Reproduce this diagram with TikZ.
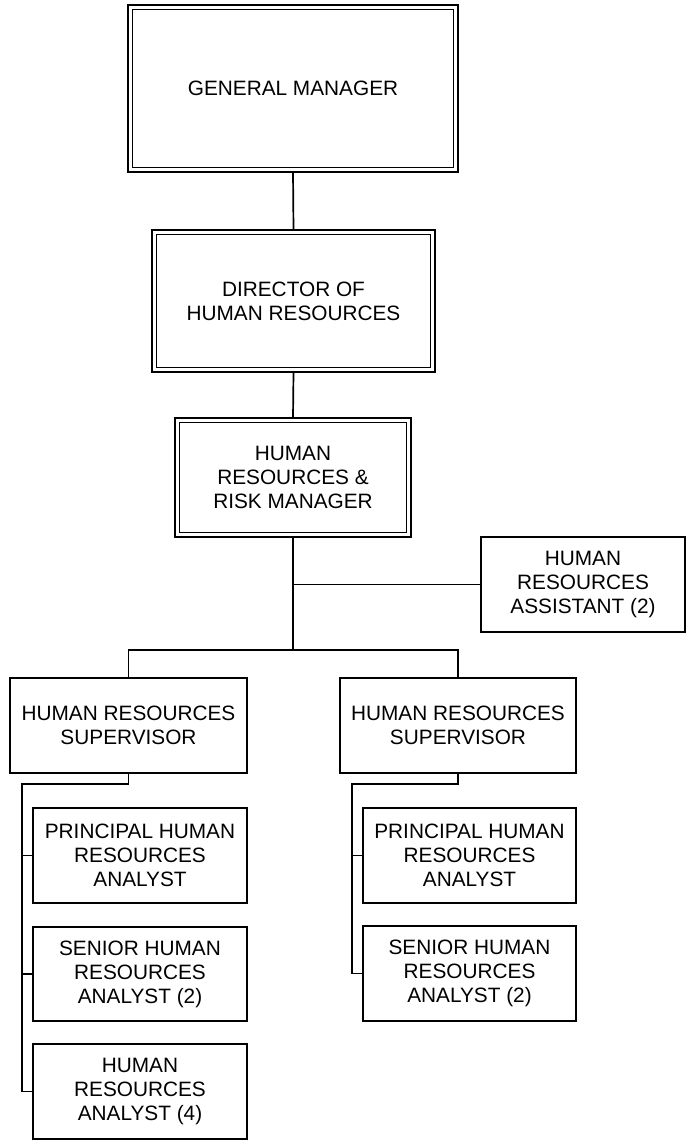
\documentclass[tikz,border=0pt]{standalone}
\usepackage{fontspec}
\setmainfont{Liberation Sans}
\begin{document}
\begin{tikzpicture}[x=1pt,y=-1pt,
  box/.style={draw, line width=1.6pt, inner sep=0pt, outer sep=0pt, align=center,
    font=\fontsize{20.8}{24}\selectfont},
  dbox/.style={box, line width=2pt},
  innerframe/.style={line width=1.1pt},
  conn/.style={line width=1.7pt, line join=miter}]
\useasboundingbox (0,0) rectangle (686,1140);

% double-framed boxes
\node[dbox, minimum width=330pt, minimum height=167pt] (gm) at (293,88.5) {GENERAL MANAGER};
\node[dbox, minimum width=283pt, minimum height=142pt] (dir) at (293.5,301) {DIRECTOR OF\\HUMAN RESOURCES};
\node[dbox, minimum width=236pt, minimum height=119pt] (hrm) at (293,477.5) {HUMAN\\RESOURCES \&\\RISK MANAGER};
\foreach \n in {gm,dir,hrm}
  \draw[innerframe] ([shift={(4.5,4.5)}]\n.north west) rectangle ([shift={(-4.5,-4.5)}]\n.south east);

% single boxes
\node[box, minimum width=204pt, minimum height=95pt] (asst) at (583,584.5) {HUMAN\\RESOURCES\\ASSISTANT (2)};
\node[box, minimum width=237pt, minimum height=95pt] (sup1) at (128.5,725.5) {HUMAN RESOURCES\\SUPERVISOR};
\node[box, minimum width=236pt, minimum height=95pt] (sup2) at (458,725.5) {HUMAN RESOURCES\\SUPERVISOR};
\node[box, minimum width=214pt, minimum height=95pt] (pr1) at (140,855.5) {PRINCIPAL HUMAN\\RESOURCES\\ANALYST};
\node[box, minimum width=214pt, minimum height=94pt] (sr1) at (140,974) {SENIOR HUMAN\\RESOURCES\\ANALYST (2)};
\node[box, minimum width=214pt, minimum height=95pt] (an4) at (140,1091.5) {HUMAN\\RESOURCES\\ANALYST (4)};
\node[box, minimum width=213pt, minimum height=95pt] (pr2) at (469.5,855.5) {PRINCIPAL HUMAN\\RESOURCES\\ANALYST};
\node[box, minimum width=213pt, minimum height=95pt] (sr2) at (469.5,973.5) {SENIOR HUMAN\\RESOURCES\\ANALYST (2)};

% connectors
\coordinate (bar) at (293,650);
\coordinate (l1) at (22,784);
\coordinate (r1) at (352,784);
\draw[conn] (gm.south) -- (dir.north);
\draw[conn] (dir.south) -- (hrm.north);
\draw[conn] (hrm.south) -- (bar);
\draw[conn] (hrm.south |- asst.west) -- (asst.west);
\draw[conn] (sup1.north) -- (sup1.north |- bar) -- (sup2.north |- bar) -- (sup2.north);
\draw[conn] (sup1.south) -- (sup1.south |- l1) -- (l1) -- (l1 |- an4.west) -- (an4.west);
\draw[conn] (l1 |- pr1.west) -- (pr1.west);
\draw[conn] (l1 |- sr1.west) -- (sr1.west);
\draw[conn] (sup2.south) -- (sup2.south |- r1) -- (r1) -- (r1 |- sr2.west) -- (sr2.west);
\draw[conn] (r1 |- pr2.west) -- (pr2.west);
\end{tikzpicture}
\end{document}
